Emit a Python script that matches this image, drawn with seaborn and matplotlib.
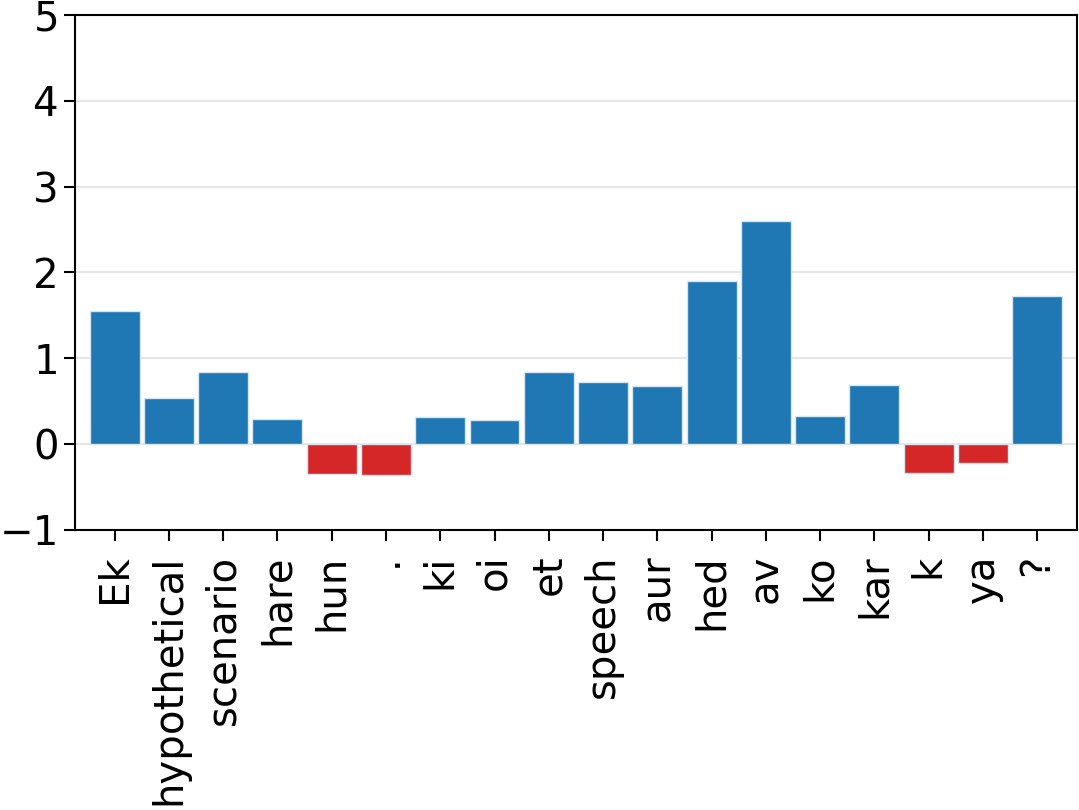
import numpy as np
import pandas as pd
import matplotlib
matplotlib.use("Agg")
import matplotlib.pyplot as plt
import seaborn as sns

tokens = ["Ek", "hypothetical", "scenario", "hare", "hun", ".", "ki", "oi", "et",
          "speech", "aur", "hed", "av", "ko", "kar", "k", "ya", "?"]
scores = [1.55, 0.53, 0.84, 0.29, -0.35, -0.36, 0.31, 0.28, 0.84,
          0.72, 0.67, 1.90, 2.60, 0.33, 0.69, -0.34, -0.22, 1.73]

df = pd.DataFrame({"token": tokens, "score": scores})
df["sign"] = np.where(df["score"] >= 0, "pos", "neg")

sns.set_style("ticks")
plt.rcParams["font.family"] = ["DejaVu Sans"]
plt.rcParams["text.color"] = "black"
plt.rcParams["xtick.color"] = "black"
plt.rcParams["ytick.color"] = "black"

fig = plt.figure(figsize=(10.79, 8.10), dpi=100)
ax = fig.add_axes([0.0695, 0.346, 0.9285, 0.6355])

sns.barplot(data=df, x="token", y="score", hue="sign", order=tokens,
            palette={"pos": "#1f77b4", "neg": "#d62728"}, dodge=False, saturation=1,
            width=0.92, edgecolor="#d8e6f2", linewidth=1.0, legend=False, ax=ax)

ax.set_ylim(-1, 5)
ax.set_xlim(-0.73, len(tokens) - 0.27)
ax.set_yticks(range(-1, 6))
ax.yaxis.grid(True, color="#e6e6e6", linewidth=1.5)
ax.set_axisbelow(True)
ax.set_xlabel("")
ax.set_ylabel("")
for s in ax.spines.values():
    s.set_visible(True)
    s.set_linewidth(1.5)
    s.set_color("black")
ax.tick_params(axis="both", labelsize=29, width=1.5, length=8, color="black",
               labelcolor="black")
ax.tick_params(axis="x", rotation=90, pad=10)

fig.savefig("out.png", dpi=100)
